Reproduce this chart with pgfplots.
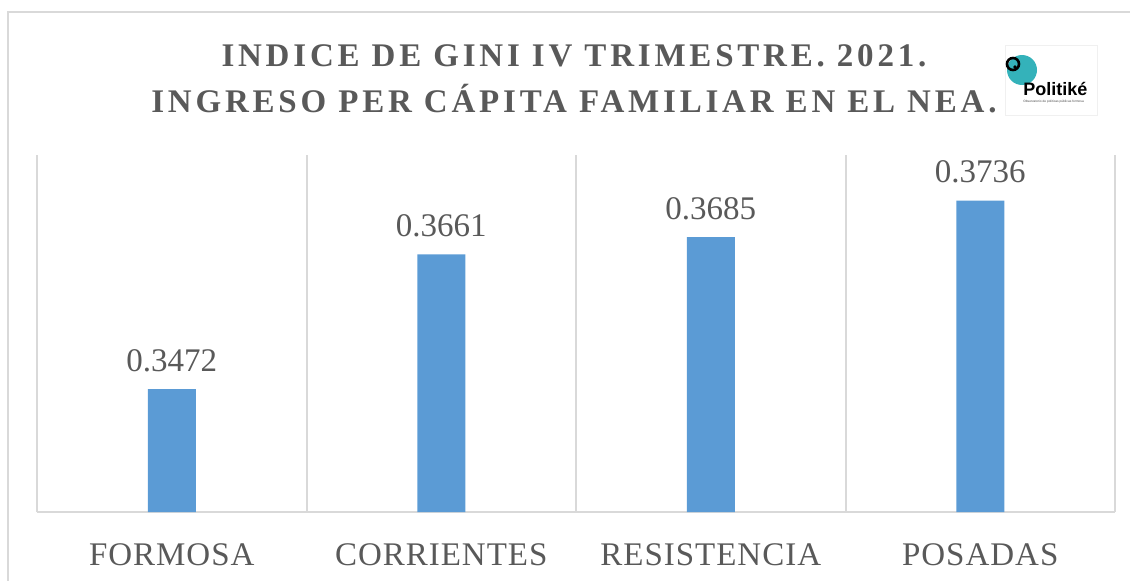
\documentclass[border=0pt]{standalone}
\usepackage{fontspec}
\setmainfont{Liberation Serif}
\newfontfamily\labelfont{Liberation Serif}[LetterSpace=3]
\newfontfamily\titlefont{Liberation Serif}[LetterSpace=11.5]
\newfontfamily\logofont{Liberation Sans}
\usepackage{pgfplots}
\pgfplotsset{compat=1.18}
\definecolor{barblue}{RGB}{91,155,213}
\definecolor{txtgray}{RGB}{89,89,89}
\definecolor{gridgray}{RGB}{217,217,217}
\definecolor{logoteal}{RGB}{52,178,186}

\pgfplotstableread{
x  val
0  0.3472
1  0.3661
2  0.3685
3  0.3736
}\ginidata

\begin{document}
\begin{tikzpicture}
\begin{scope}[x=0.5pt,y=0.5pt]
\useasboundingbox (0,0) rectangle (1130,580);
\draw[gridgray, line width=1pt] (8,568) rectangle (1150,-20);

% title
\node[txtgray, anchor=base] at (574,514)
  {\titlefont\bfseries\fontsize{16.5}{20}\selectfont INDICE DE GINI IV TRIMESTRE. 2021.};
\node[txtgray, anchor=base] at (574,467)
  {\titlefont\bfseries\fontsize{16.5}{20}\selectfont INGRESO PER CÁPITA FAMILIAR EN EL NEA.};

% logo
\draw[gray!12, fill=white, line width=0.3pt] (1005,535) rectangle (1097,465);
\fill[logoteal] (1022,510) circle[radius=15];
\draw[black, line width=1.3pt] (1013,516) circle[radius=6];
\fill[black] (1015,513) circle[radius=1.8];
\node[anchor=base west, inner sep=0pt] at (1023,485)
  {\logofont\bfseries\fontsize{9}{10}\selectfont Politiké};
\node[anchor=base west, inner sep=0pt, text=black!70] at (1023,478)
  {\logofont\fontsize{1.6}{2}\selectfont Observatorio de políticas públicas formosa};
\end{scope}

\begin{axis}[
    at={(18.5pt,34pt)}, anchor=south west,
    scale only axis,
    width=539pt, height=178.5pt,
    ybar, bar width=24pt,
    xmin=-0.5, xmax=3.5,
    ymin=0.33, ymax=0.38,
    axis y line=none,
    axis x line=bottom,
    x axis line style={-, draw=gridgray, line width=1pt},
    xtick=data,
    xticklabels={FORMOSA, CORRIENTES, RESISTENCIA, POSADAS},
    major tick length=0pt,
    minor tick length=0pt,
    minor xtick={-0.5,0.5,1.5,2.5,3.5},
    xminorgrids,
    minor grid style={gridgray, line width=1pt},
    xticklabel style={text=txtgray, font=\labelfont\fontsize{16.5}{20}\selectfont, anchor=base, yshift=-26.5pt},
    nodes near coords,
    every node near coord/.append style={text=txtgray, font=\fontsize{16.5}{20}\selectfont, anchor=base, yshift=9pt},
    /pgf/number format/.cd, fixed, fixed zerofill, precision=4, assume math mode=true,
]
\addplot[fill=barblue, draw=none] table[x=x, y=val] {\ginidata};
\end{axis}
\end{tikzpicture}
\end{document}
